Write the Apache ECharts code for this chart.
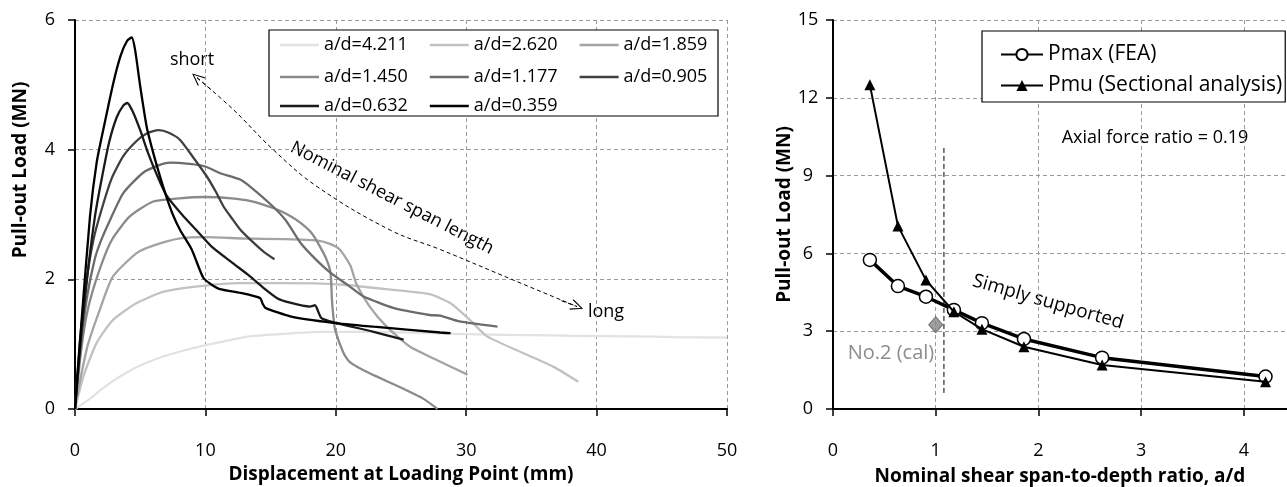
<!DOCTYPE html>
<html><head><meta charset="utf-8">
<script src="https://cdn.jsdelivr.net/npm/echarts@6/dist/echarts.min.js"></script>
<style>html,body{margin:0;padding:0;background:#fff}#c{width:1287px;height:487px}</style>
</head><body><div id="c"></div>
<script>
// ---- Left chart data: load-displacement curves (x: mm, y: MN)
const curveNames = ['a/d=4.211','a/d=2.620','a/d=1.859','a/d=1.450','a/d=1.177','a/d=0.905','a/d=0.632','a/d=0.359'];
const curveColors = ['#e2e2e2','#c2c2c2','#a4a4a4','#8a8a8a','#6c6c6c','#404040','#1a1a1a','#000000'];
const c4211 = [[0,0],[1.15,0.16],[2.2,0.33],[3.45,0.5],[5,0.67],[6.75,0.81],[8.5,0.91],[10.1,0.99],[11.8,1.06],[13.4,1.12],[16,1.16],[19,1.19],[23,1.19],[27.2,1.17],[31,1.15],[34.9,1.14],[38,1.13],[42.6,1.12],[46,1.11],[50,1.1]];
const c2620 = [[0,0],[0.64,0.5],[1.66,1.02],[2.9,1.37],[4.7,1.63],[6.8,1.81],[9.8,1.9],[12.6,1.94],[16,1.94],[20.3,1.92],[24.2,1.84],[27.2,1.77],[28.8,1.63],[30.3,1.37],[31.6,1.12],[34.4,0.86],[36.7,0.65],[38.6,0.42]];
const c1859 = [[0,0],[0.45,0.5],[1.0,1.0],[1.9,1.53],[2.9,2.04],[4.7,2.4],[6.0,2.52],[8.06,2.63],[10,2.65],[13,2.63],[16,2.62],[18.5,2.6],[19.5,2.55],[20.3,2.46],[21.1,2.22],[21.6,1.92],[22.6,1.58],[23.9,1.27],[25.7,0.96],[27.5,0.78],[30.1,0.53]];
const c1450 = [[0,0],[0.5,0.95],[1.0,1.55],[1.8,2.1],[2.8,2.6],[4.2,2.97],[6.0,3.2],[8.0,3.25],[10,3.27],[12,3.25],[13.4,3.21],[15.2,3.1],[16.3,3.0],[17.3,2.87],[18.2,2.7],[18.8,2.5],[19.3,2.3],[19.6,2.1],[19.7,1.7],[19.8,1.45],[19.95,1.22],[20.6,0.86],[21.1,0.72],[22.6,0.55],[24.9,0.34],[26.7,0.16],[27.8,0.0]];
const c1177 = [[0,0],[0.4,0.9],[0.9,1.7],[1.5,2.3],[2.0,2.6],[2.7,2.92],[3.7,3.33],[5.2,3.64],[6.3,3.75],[7.3,3.8],[8.8,3.78],[10,3.74],[11.1,3.64],[12.66,3.54],[13.5,3.42],[15.2,3.12],[16.2,2.9],[17.3,2.56],[18.5,2.3],[19.6,2.1],[21.0,1.9],[22.1,1.74],[24.4,1.56],[27.2,1.45],[28,1.44],[29.5,1.35],[32.4,1.27]];
const c0905 = [[0,0],[0.4,1.1],[0.9,2.0],[1.4,2.6],[2.0,3.05],[2.8,3.55],[3.7,3.9],[4.7,4.13],[5.5,4.25],[6.4,4.3],[7.2,4.26],[8.06,4.15],[9.07,3.88],[10.1,3.59],[10.8,3.35],[11.4,3.12],[12.0,2.95],[12.7,2.76],[13.5,2.6],[14.5,2.42],[15.3,2.31]];
const c0632 = [[0,0],[0.5,1.2],[1.0,2.15],[1.53,2.97],[2.0,3.5],[2.6,4.1],[3.2,4.5],[3.7,4.68],[4.0,4.72],[4.4,4.6],[5.0,4.3],[5.6,3.95],[6.3,3.6],[7.0,3.3],[8.2,3.0],[9.3,2.76],[10.5,2.5],[12.1,2.25],[13.4,2.05],[14.5,1.86],[15.5,1.71],[16.5,1.64],[18.0,1.58],[18.4,1.6],[18.9,1.4],[20,1.33],[22.9,1.19],[25.2,1.07]];
const c0359 = [[0,0],[0.5,1.35],[1.15,2.97],[1.66,3.8],[2.17,4.31],[2.94,5.03],[3.5,5.45],[4.0,5.68],[4.35,5.73],[4.6,5.55],[5.0,4.98],[5.5,4.35],[6.0,3.95],[6.5,3.6],[7.0,3.28],[7.5,3.0],[8.06,2.76],[8.95,2.46],[9.85,2.02],[10.6,1.9],[11.1,1.85],[12.7,1.79],[14.2,1.71],[14.4,1.62],[14.6,1.56],[16.5,1.43],[19.8,1.33],[22.9,1.27],[28,1.18],[28.8,1.17]];
const curveData = [c4211,c2620,c1859,c1450,c1177,c0905,c0632,c0359];
// dashed "Nominal shear span length" arrow path (data coordinates)
const arrowPath = [[9.36,5.11],[12.13,4.62],[15.2,4.0],[18.57,3.43],[24.17,2.76],[28.01,2.46],[33.6,1.99],[38.5,1.58]];
const arrowHeads = [[[10.4,4.93],[9.36,5.11]],[[37.3,1.67],[38.5,1.58]]];

// ---- Right chart data
const adRatio = [0.359,0.632,0.905,1.177,1.450,1.859,2.620,4.211];
const pmaxFEA = [5.75,4.74,4.33,3.82,3.31,2.70,1.98,1.25];
const pmuSect = [12.5,7.06,4.97,3.75,3.08,2.40,1.70,1.05];
const no2Cal = [[1.0,3.25]];
const simplyLine = [[1.08,0.62],[1.08,10.1]];

const FONT = 'Open Sans';
const chevron = 'path://M0,0 L-6,10 L-5,10.8 L0,2 L5,10.8 L6,10 Z';
const lineIcon = 'path://M0,0 H40 V2.6 H0 Z';

const leftSeries = curveNames.map((n,i)=>({
  name:n, type:'line', xAxisIndex:0, yAxisIndex:0, data:curveData[i],
  symbol:'none', smooth:0.2, lineStyle:{color:curveColors[i], width:2.3}, itemStyle:{color:curveColors[i]},
  z: 2
}));

const axisCommon = {
  axisLine:{show:true, lineStyle:{color:'#000', width:2}},
  axisTick:{show:true, inside:false, length:7, lineStyle:{color:'#000', width:1.5}},
  splitLine:{show:true, lineStyle:{color:'#9a9a9a', type:[4,3], width:1}},
  nameTextStyle:{color:'#000', fontSize:19, fontWeight:'bold', fontFamily:FONT}
};
const lbl = (extra)=>Object.assign({color:'#000', fontSize:18, fontFamily:FONT}, extra);

// one legend per row of the 3-column left legend box
const legendRowTops = [36, 68, 97];
const leftLegends = [0,1,2].map(r=>({
  data:curveNames.slice(r*3, r*3+3), left:280, top:legendRowTops[r], orient:'horizontal',
  padding:0, itemGap:22, itemWidth:39, itemHeight:14, icon:lineIcon, z:5,
  textStyle:{fontSize:18, fontFamily:FONT, color:'#000'}, selectedMode:false
}));

const option = {
  animation:false,
  backgroundColor:'#fff',
  textStyle:{fontFamily:FONT},
  grid:[
    {left:75, top:20, width:652, height:389, outerBoundsMode:'none', containLabel:false},
    {left:833, top:20, width:454, height:389, outerBoundsMode:'none', containLabel:false}
  ],
  xAxis:[
    Object.assign({}, axisCommon, {type:'value', gridIndex:0, min:0, max:50, interval:10,
      name:'Displacement at Loading Point (mm)', nameLocation:'middle', nameGap:54,
      axisLabel:lbl({margin:33})}),
    Object.assign({}, axisCommon, {type:'value', gridIndex:1, min:0, max:4.42, interval:1,
      name:'Nominal shear span-to-depth ratio, a/d', nameLocation:'middle', nameGap:58,
      axisLabel:lbl({margin:33, showMaxLabel:false})})
  ],
  yAxis:[
    Object.assign({}, axisCommon, {type:'value', gridIndex:0, min:0, max:6, interval:2,
      axisLabel:lbl({margin:20})}),
    Object.assign({}, axisCommon, {type:'value', gridIndex:1, min:0, max:15, interval:3,
      name:'Pull-out Load (MN)', nameLocation:'middle', nameGap:33,
      axisLabel:lbl({margin:25, align:'center'})})
  ],
  legend: leftLegends.concat([
    {data:['Pmax (FEA)','Pmu (Sectional analysis)'], left:982, top:31, orient:'vertical',
     padding:[13,3,6,18], itemGap:10, itemWidth:42, itemHeight:14,
     borderColor:'#000', borderWidth:1.2, backgroundColor:'#fff',
     textStyle:{fontSize:21, fontFamily:FONT, color:'#000'},
     selectedMode:false}
  ]),
  series: leftSeries.concat([
    {name:'arrow', type:'line', xAxisIndex:0, yAxisIndex:0, data:arrowPath, symbol:'none', smooth:0.4, silent:true,
     lineStyle:{color:'#000', width:1, type:[4,3]}, z:1,
     markLine:{silent:true, symbol:['none', chevron], symbolSize:[11,13],
       lineStyle:{color:'#000', width:1, type:[4,3]}, label:{show:false}, emphasis:{disabled:true},
       data:arrowHeads.map(s=>[{coord:s[0]},{coord:s[1]}])}},
    {name:'Simply', type:'line', xAxisIndex:1, yAxisIndex:1, data:simplyLine, symbol:'none',
     lineStyle:{color:'#000', width:1, type:[5,3]}, z:1, silent:true},
    {name:'No.2 (cal)', type:'scatter', xAxisIndex:1, yAxisIndex:1, data:no2Cal, symbol:'diamond', symbolSize:[14,16],
     itemStyle:{color:'#858585', borderColor:'#5a5a5a', borderWidth:1}, z:2},
    {name:'Pmax (FEA)', type:'line', xAxisIndex:1, yAxisIndex:1, data:adRatio.map((a,i)=>[a,pmaxFEA[i]]),
     symbol:'circle', symbolSize:13, showSymbol:true,
     lineStyle:{color:'#000', width:3.5}, itemStyle:{color:'#fff', borderColor:'#000', borderWidth:1.5}, z:3},
    {name:'Pmu (Sectional analysis)', type:'line', xAxisIndex:1, yAxisIndex:1, data:adRatio.map((a,i)=>[a,pmuSect[i]]),
     symbol:'triangle', symbolSize:11, showSymbol:true,
     lineStyle:{color:'#000', width:2}, itemStyle:{color:'#000'}, z:4}
  ]),
  graphic:[
    {type:'rect', z:3, shape:{x:269, y:30, width:449, height:86}, style:{fill:'#fff', stroke:'#000', lineWidth:1.2}},
    {type:'text', x:21, y:170, rotation:Math.PI/2, style:{text:'Pull-out Load (MN)', font:'bold 19px "Open Sans"', fill:'#000', align:'center', verticalAlign:'middle'}},
    {type:'text', x:192, y:60, style:{text:'short', font:'18px "Open Sans"', fill:'#000', align:'center', verticalAlign:'middle'}},
    {type:'text', x:392, y:198, rotation:-0.475, style:{text:'Nominal shear span length', font:'18px "Open Sans"', fill:'#000', align:'center', verticalAlign:'middle'}},
    {type:'text', x:606, y:312, style:{text:'long', font:'18px "Open Sans"', fill:'#000', align:'center', verticalAlign:'middle'}},
    {type:'text', x:1155, y:138, style:{text:'Axial force ratio = 0.19', font:'18px "Open Sans"', fill:'#000', align:'center', verticalAlign:'middle'}},
    {type:'text', x:1048, y:302, rotation:-0.28, style:{text:'Simply supported', font:'19px "Open Sans"', fill:'#000', align:'center', verticalAlign:'middle'}},
    {type:'text', x:891, y:353, style:{text:'No.2 (cal)', font:'20px "Open Sans"', fill:'#8c8c8c', align:'center', verticalAlign:'middle'}}
  ]
};
const chart = echarts.init(document.getElementById('c'), null, {renderer:'canvas'});
chart.setOption(option);
</script>
</body></html>
